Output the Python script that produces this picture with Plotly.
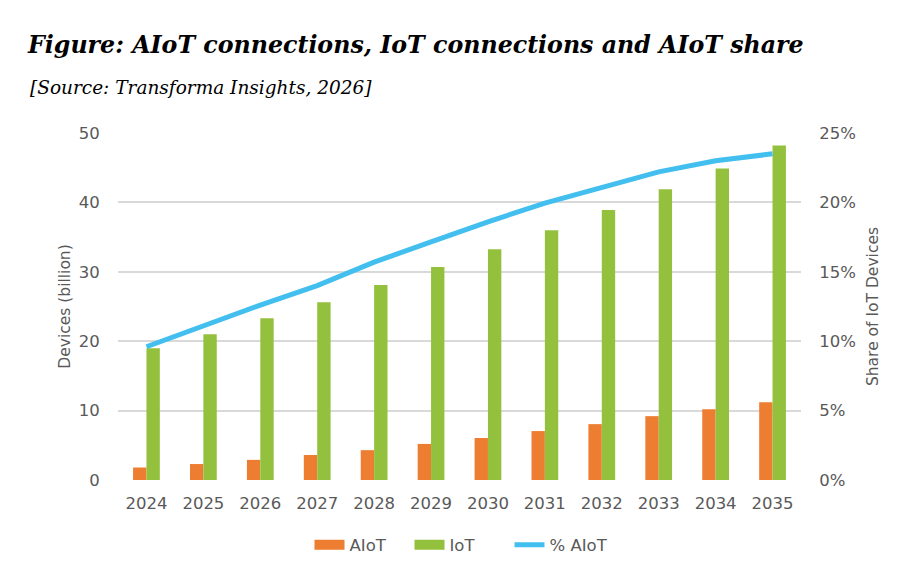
import plotly.graph_objects as go

years = ["2024", "2025", "2026", "2027", "2028", "2029", "2030", "2031", "2032", "2033", "2034", "2035"]
aiot = [1.8, 2.3, 2.9, 3.6, 4.3, 5.2, 6.05, 7.05, 8.05, 9.2, 10.2, 11.2]
iot = [19.0, 21.0, 23.3, 25.6, 28.1, 30.7, 33.25, 36.0, 38.9, 41.9, 44.9, 48.2]
share = [9.6, 11.1, 12.6, 14.0, 15.7, 17.15, 18.6, 19.95, 21.1, 22.2, 23.0, 23.5]

ORANGE = "#ED7D31"
GREEN = "#94C13D"
BLUE = "#43BFEF"
tick_font = dict(family="DejaVu Sans", size=16.5, color="#595959")

fig = go.Figure()
fig.add_trace(go.Bar(x=years, y=aiot, name="AIoT", marker_color=ORANGE, marker_line_width=0,
                     showlegend=False, legendgroup="a"))
fig.add_trace(go.Bar(x=years, y=iot, name="IoT", marker_color=GREEN, marker_line_width=0,
                     showlegend=False, legendgroup="b"))
fig.add_trace(go.Scatter(x=years, y=[s / 100 for s in share], name="% AIoT", mode="lines",
                         line=dict(color=BLUE, width=5), yaxis="y2", showlegend=False, legendgroup="c"))
# legend entries (rectangular swatches as in the reference)
fig.add_trace(go.Scatter(x=[None], y=[None], name="AIoT", mode="lines",
                         line=dict(color=ORANGE, width=10), legendgroup="a"))
fig.add_trace(go.Scatter(x=[None], y=[None], name="IoT", mode="lines",
                         line=dict(color=GREEN, width=10), legendgroup="b"))
fig.add_trace(go.Scatter(x=[None], y=[None], name="% AIoT", mode="lines",
                         line=dict(color=BLUE, width=5), legendgroup="c"))

fig.update_layout(
    width=919, height=587,
    margin=dict(l=118, r=118, t=133, b=107),
    plot_bgcolor="white", paper_bgcolor="white",
    barmode="group", bargap=0.53, bargroupgap=0,
    font=tick_font,
    title=dict(text="<b><i>Figure: AIoT connections, IoT connections and AIoT share</i></b>",
               font=dict(family="DejaVu Serif", size=23.7, color="#000000"),
               xref="container", x=28 / 919, xanchor="left",
               yref="container", y=1 - 45 / 587, yanchor="middle"),
    annotations=[dict(text="<i>[Source: Transforma Insights, 2026]</i>",
                      xref="paper", yref="paper",
                      x=(28 - 118) / 683, y=(480 - 88) / 347,
                      xanchor="left", yanchor="middle", showarrow=False,
                      font=dict(family="DejaVu Serif", size=18.5, color="#000000"))],
    xaxis=dict(type="category", range=[-0.5, 11.5], showgrid=False, showline=False,
               ticks="outside", ticklen=8, tickcolor="rgba(0,0,0,0)", tickfont=tick_font),
    yaxis=dict(range=[0, 50], dtick=10, showgrid=True, gridcolor="#D9D9D9", gridwidth=2,
               zeroline=False, showline=False, ticks="outside", ticklen=14,
               tickcolor="rgba(0,0,0,0)", tickfont=tick_font,
               title=dict(text="Devices (billion)", font=dict(family="DejaVu Sans", size=15.5, color="#595959"),
                          standoff=4)),
    yaxis2=dict(range=[0, 0.25], dtick=0.05, tickformat=".0%", overlaying="y", side="right",
                showgrid=False, zeroline=False, showline=False, ticks="outside", ticklen=14,
                tickcolor="rgba(0,0,0,0)", tickfont=tick_font,
                title=dict(text="Share of IoT Devices", font=dict(family="DejaVu Sans", size=15.5, color="#595959"),
                           standoff=12)),
    legend=dict(orientation="h", x=0.5, xanchor="center", y=(480 - 545) / 347, yanchor="middle",
                font=dict(family="DejaVu Sans", size=16.5, color="#595959"), traceorder="normal",
                itemwidth=30, entrywidth=55, entrywidthmode="pixels"),
)

fig.write_html("out.html")
